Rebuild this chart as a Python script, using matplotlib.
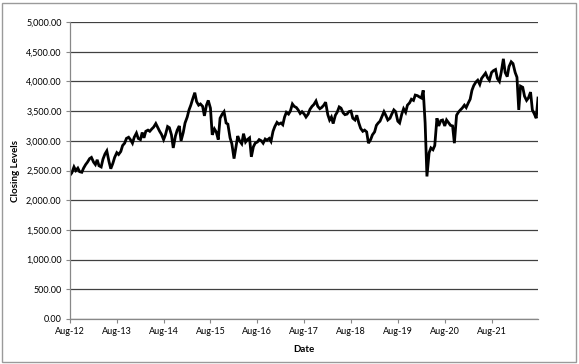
import numpy as np
import pandas as pd
import matplotlib
matplotlib.use("Agg")
import matplotlib.pyplot as plt
import matplotlib.dates as mdates
from matplotlib.ticker import FuncFormatter, MultipleLocator
from matplotlib.patches import Rectangle

# closing levels, two readings per month (1st and 15th), Aug-12 .. Jul-22
closing = [
    # Aug-12 .. Jul-13
    2420, 2460, 2560, 2500, 2540, 2480, 2470, 2540, 2600, 2640, 2700, 2720,
    2640, 2600, 2680, 2580, 2560, 2690, 2780, 2830, 2650, 2530, 2620, 2720,
    # Aug-13 .. Jul-14
    2800, 2770, 2820, 2920, 2960, 3040, 3060, 3020, 2960, 3060, 3130, 3040,
    3020, 3140, 3050, 3160, 3180, 3160, 3200, 3230, 3290, 3230, 3160, 3110,
    # Aug-14 .. Jul-15
    3020, 3100, 3240, 3220, 3100, 2880, 3080, 3180, 3250, 3000, 3140, 3300,
    3400, 3520, 3600, 3700, 3810, 3660, 3600, 3620, 3580, 3420, 3600, 3680,
    # Aug-15 .. Jul-16
    3550, 3100, 3200, 3150, 3020, 3380, 3450, 3490, 3300, 3280, 3050, 2950,
    2700, 2880, 3080, 3000, 2950, 3120, 2980, 3020, 3050, 2730, 2900, 2960,
    # Aug-16 .. Jul-17
    2980, 3020, 3000, 2960, 3030, 3010, 3040, 2990, 3160, 3240, 3310, 3280,
    3300, 3270, 3400, 3480, 3450, 3500, 3620, 3580, 3560, 3520, 3460, 3490,
    # Aug-17 .. Jul-18
    3450, 3400, 3450, 3530, 3580, 3610, 3670, 3580, 3540, 3560, 3600, 3650,
    3440, 3350, 3400, 3290, 3430, 3480, 3570, 3550, 3470, 3440, 3450, 3490,
    # Aug-18 .. Jul-19
    3500, 3380, 3350, 3430, 3300, 3210, 3160, 3180, 3150, 2960, 3020, 3100,
    3150, 3260, 3300, 3330, 3420, 3490, 3420, 3350, 3380, 3450, 3520, 3490,
    # Aug-19 .. Jul-20
    3330, 3300, 3450, 3540, 3480, 3600, 3640, 3700, 3680, 3770, 3760, 3740,
    3720, 3850, 3300, 2400, 2800, 2880, 2850, 2920, 3380, 3250, 3340, 3350,
    # Aug-20 .. Jul-21
    3250, 3350, 3300, 3260, 3250, 2960, 3430, 3480, 3520, 3550, 3600, 3560,
    3640, 3700, 3850, 3930, 3990, 4020, 3950, 4050, 4100, 4140, 4060, 4020,
    # Aug-21 .. Jul-22
    4150, 4180, 4200, 4050, 4000, 4150, 4380, 4150, 4080, 4250, 4330, 4300,
    4150, 4070, 3520, 3920, 3900, 3750, 3680, 3720, 3820, 3520, 3450, 3380,
]
last_close = 3720
last_date = "2022-07-29"

dates = pd.date_range("2012-08-01", periods=len(closing), freq="SMS")
dates = dates.append(pd.DatetimeIndex([last_date]))
closing = closing + [last_close]

plt.rcParams["font.family"] = ["Lato", "DejaVu Sans"]

fig = plt.figure(figsize=(5.79, 3.64), dpi=100)
ax = fig.add_axes([70 / 579, 1 - 319 / 364, 468 / 579, 297 / 364])

ax.plot(dates, closing, color="black", lw=2.0, solid_joinstyle="miter")

ax.set_ylim(0, 5000)
ax.set_xlim(pd.Timestamp("2012-08-01"), pd.Timestamp(last_date))
ax.yaxis.set_major_locator(MultipleLocator(500))
ax.yaxis.set_major_formatter(FuncFormatter(lambda v, p: f"{v:,.2f}"))
ax.xaxis.set_major_locator(mdates.MonthLocator(bymonth=8))
ax.xaxis.set_major_formatter(mdates.DateFormatter("%b-%y"))

ax.grid(axis="y", color="#404040", lw=0.9)
ax.set_axisbelow(True)
for s in ["top", "right"]:
    ax.spines[s].set_visible(False)
for s in ["left", "bottom"]:
    ax.spines[s].set_color("#888888")
    ax.spines[s].set_linewidth(0.9)
ax.tick_params(axis="both", labelsize=6.5, length=3, color="#888888", pad=3)

ax.set_ylabel("Closing Levels", fontsize=7, fontweight="bold", labelpad=4)
ax.set_xlabel("Date", fontsize=7, fontweight="bold", labelpad=6)

# outer chart border
fig.patches.append(Rectangle((2 / 579, 2 / 364), 574 / 579, 359 / 364,
                             transform=fig.transFigure, fill=False,
                             edgecolor="#9a9a9a", lw=1))

fig.savefig("out.png", dpi=100)
